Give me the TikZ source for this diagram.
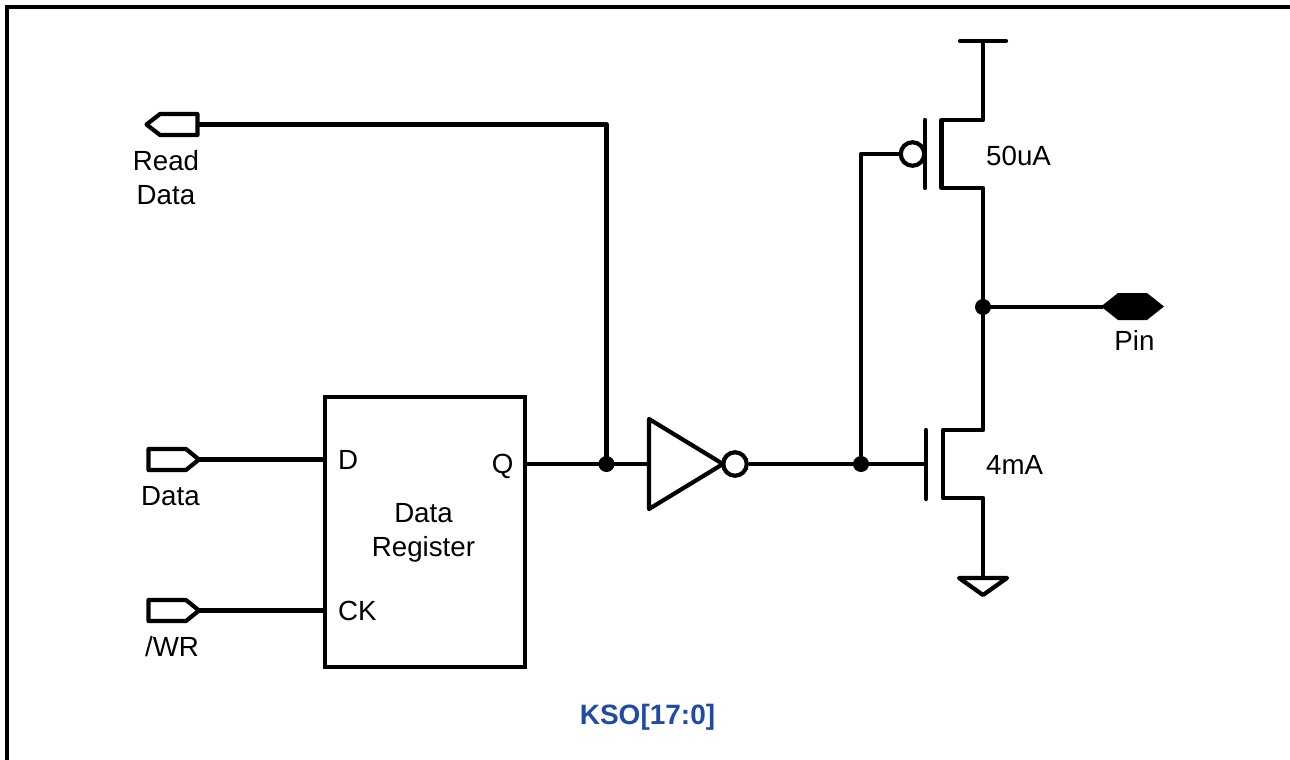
\documentclass[tikz,border=0pt]{standalone}
\usepackage{fontspec}
\setmainfont{Liberation Sans}
\definecolor{kso}{HTML}{1F4BA5}
\tikzset{
  wire/.style={draw=black,line width=4.2pt,line join=round,line cap=butt},
  bubble/.style={circle,draw=black,line width=4.2pt,fill=white,minimum size=23.5pt,inner sep=0pt},
  dot/.style={circle,fill=black,minimum size=16pt,inner sep=0pt},
  lbl/.style={inner sep=0pt,font=\fontsize{27.7}{33.5}\selectfont,text=black,align=center},
  title/.style={inner sep=0pt,font=\fontsize{28}{33}\selectfont\bfseries,text=kso},
}
\begin{document}
\begin{tikzpicture}[x=1pt,y=-1pt]
\useasboundingbox (0,0) rectangle (1290,760);
% frame
\coordinate (fa) at (7,760); \coordinate (fb) at (7,7); \coordinate (fc) at (1290,7);
\draw[wire,line width=4.4pt,line join=miter] (fa) -- (fb) -- (fc);

% coordinates
\coordinate (rdE) at (197.5,124.5);
\coordinate (j1) at (606.5,464);
\coordinate (rdC) at (606.5,124.5);
\coordinate (j2) at (861,464);
\coordinate (pC) at (861,154);
\coordinate (vdd) at (983,41);
\coordinate (j3) at (983,307);
\coordinate (gnd) at (983,578);

% register
\node[draw=black,line width=4.2pt,minimum width=200pt,minimum height=270pt,inner sep=0pt,outer sep=0pt] (reg) at (425,532) {};
\node[lbl] (regt) at (423.5,533) {Data\\Register};
\node[lbl,anchor=base west] (lD) at (338,469.5) {D};
\node[lbl,anchor=base west] (lCK) at (338,620.5) {CK};
\node[lbl,anchor=base east] (lQ) at (513.5,473.5) {Q};

% ports
\draw[wire,fill=white] (197.5,114) -- (160,114) -- (146.5,124.5) -- (160,135) -- (197.5,135) -- cycle;
\draw[wire,fill=white] (148.5,449) -- (186,449) -- (199,459.5) -- (186,470) -- (148.5,470) -- cycle;
\coordinate (dE) at (199,459.5);
\draw[wire,fill=white] (148.5,600) -- (186,600) -- (199,610.5) -- (186,621) -- (148.5,621) -- cycle;
\coordinate (wE) at (199,610.5);
\node[lbl] (lrd) at (166,177.5) {Read\\Data};
\node[lbl] (ld) at (170.5,496) {Data};
\node[lbl] (lwr) at (172,646.5) {/WR};

% wires
\draw[wire] (rdE) -- (rdC) -- (j1);
\draw[wire] (dE) -- (reg.west |- dE);
\draw[wire] (wE) -- (reg.west |- wE);

% inverter
\coordinate (iw) at (649,464);
\coordinate (it) at (649,419);
\coordinate (ib) at (649,509);
\coordinate (itip) at (723,464);
\draw[wire] (reg.east |- j1) -- (iw);
\draw[wire] (it) -- (itip) -- (ib) -- cycle;
\node[bubble] (nb) at (735,464) {};
\draw[wire] (nb) -- (j2);

% NMOS
\coordinate (ng) at (926,464);
\draw[wire] (j2) -- (ng);
\coordinate (ngt) at (926,430); \coordinate (ngb) at (926,499);
\draw[wire,line cap=round] (ngt) -- (ngb);
\coordinate (nd) at (943,430); \coordinate (ns) at (943,498);
\draw[wire] (j3) -- (983,430) -- (nd) -- (ns) -- (983,498) -- (gnd);
\coordinate (gl) at (959,578); \coordinate (gr) at (1007,578); \coordinate (gt) at (983,595);
\draw[wire] (gl) -- (gr) -- (gt) -- cycle;
\node[lbl,anchor=base west] (l4) at (986,474.5) {4mA};

% PMOS
\coordinate (pgt) at (925,120); \coordinate (pgb) at (925,188);
\draw[wire,line cap=round] (pgt) -- (pgb);
\node[bubble] (pb) at (912.5,154) {};
\draw[wire] (pb) -- (pC) -- (j2);
\coordinate (ps) at (941.5,120); \coordinate (pd) at (941.5,188);
\draw[wire] (vdd) -- (983,120) -- (ps) -- (pd) -- (983,188) -- (j3);
\coordinate (vl) at (960,41); \coordinate (vr) at (1006,41);
\draw[wire,line cap=round] (vl) -- (vr);
\node[lbl,anchor=base west] (l50) at (986,165.5) {50uA};

% pin
\coordinate (pinW) at (1103,307);
\draw[wire] (j3) -- (pinW);
\fill[black] (1101,306.5) -- (1118,293) -- (1147,293) -- (1164,306.5) -- (1147,320) -- (1118,320) -- cycle;
\node[lbl] (lpin) at (1134.5,340) {Pin};

% junctions
\node[dot] (d1) at (j1) {};
\node[dot] (d2) at (j2) {};
\node[dot] (d3) at (j3) {};

\node[title] (ttl) at (647.5,717.5) {KSO[17:0]};
\end{tikzpicture}
\end{document}
